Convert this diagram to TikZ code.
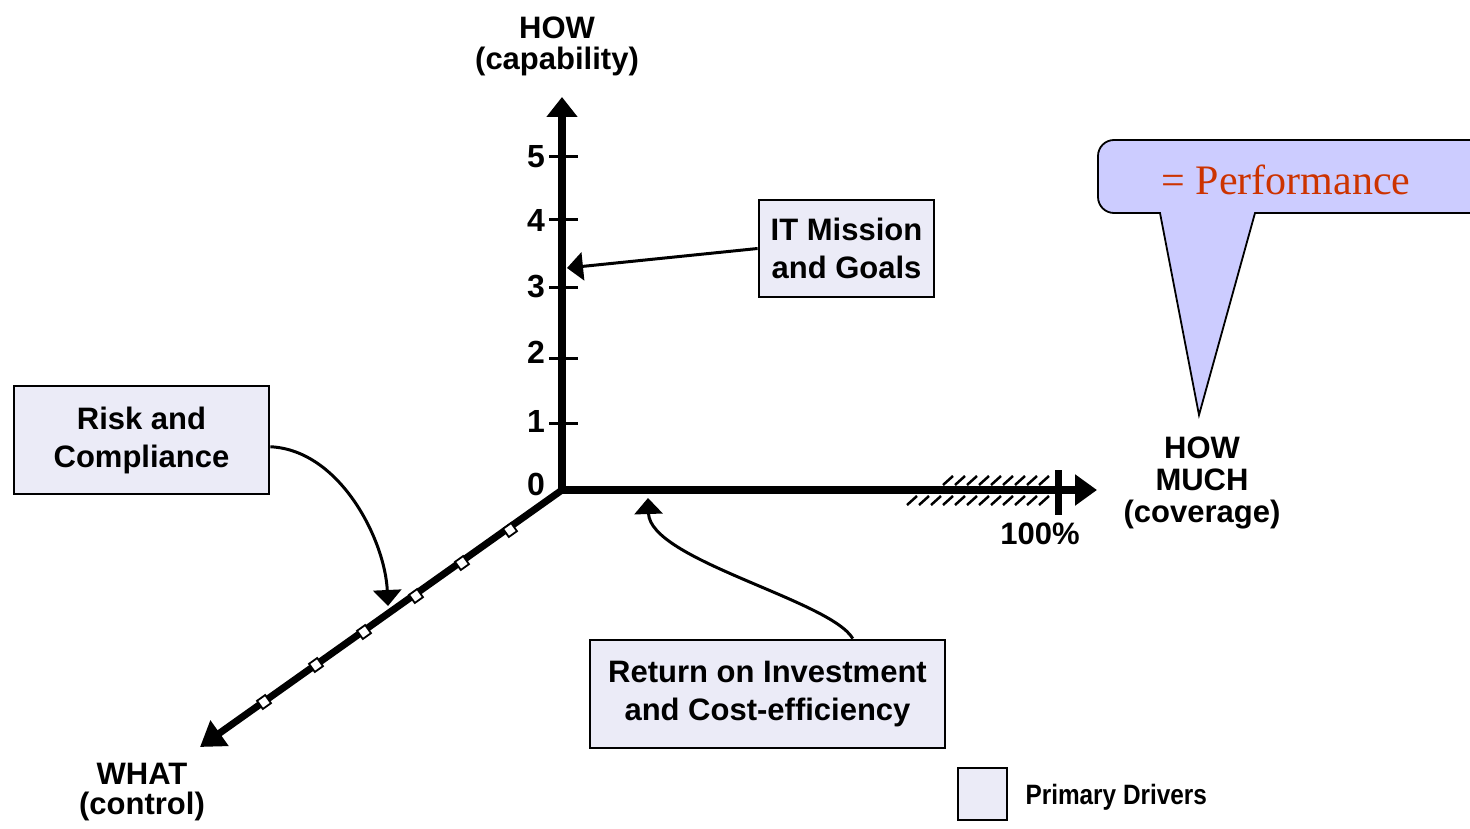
\documentclass[tikz,border=0pt]{standalone}
\usepackage{fontspec}
\setmainfont{Liberation Sans}
\newfontfamily\perffont{Liberation Serif}
\newfontfamily\narrowfont[FakeStretch=0.87]{Liberation Sans}
\usetikzlibrary{arrows.meta}
\definecolor{boxfill}{HTML}{EBEBF7}
\definecolor{callfill}{HTML}{CCCCFF}
\definecolor{perfred}{HTML}{CC3300}
\newcommand\myfs[2]{\fontsize{#1}{#2}\selectfont}
\begin{document}
\begin{tikzpicture}[x=1pt,y=-1pt,
  driver/.style={draw, line width=2.8pt, fill=boxfill, inner sep=0pt, align=center,
                 font=\bfseries\myfs{31}{38}},
  axislbl/.style={align=center, font=\bfseries\myfs{31}{31}},
  num/.style={font=\bfseries\myfs{32}{32}},
  axisline/.style={line width=7.5pt, line join=miter},
  tickline/.style={line width=3pt},
  hatchline/.style={line width=2.5pt},
  conn/.style={line width=3pt, -{Triangle[width=28pt,length=16pt]}},
  dotbox/.style={draw, fill=white, line width=1.8pt, minimum size=10pt, inner sep=0pt, rotate=35.4},
  callout/.style={draw, line width=1.8pt, fill=callfill}
]
\useasboundingbox (0,0) rectangle (1470,829);
\clip (0,0) rectangle (1470,829);

% axis coordinates
\coordinate (O) at (562,490);
\coordinate (ytop) at (562,97);
\coordinate (xend) at (1097,490);
\coordinate (zend) at (200,747);

% hatching near 100%
\foreach \x in {907,919,...,1045} \draw[hatchline] (\x,505) -- (\x+10,496);
\foreach \x in {943,955,...,1045} \draw[hatchline] (\x,485) -- (\x+10,476);

% axes
\draw[axisline, {Triangle[width=30pt,length=20pt]}-{Triangle[width=30pt,length=22pt]}] (ytop) -- (O) -- (xend);
\draw[line width=7pt, -{Triangle[width=30pt,length=24pt]}] (O) -- (zend);

% ticks on vertical axis
\foreach \y in {157,220,287,358,423} \draw[tickline] (549,\y) -- (578,\y);
\node[num] (n5) at (536,157) {5};
\node[num] (n4) at (536,220) {4};
\node[num] (n3) at (536,287) {3};
\node[num] (n2) at (536,352) {2};
\node[num] (n1) at (536,421) {1};
\node[num] (n0) at (536,484) {0};

% 100% tick
\draw[line width=7pt] (1058,470) -- (1058,515);
\node[font=\bfseries\myfs{31}{31}] (hundred) at (1040,534) {100\%};

% small squares on diagonal axis
\foreach \p [count=\i] in {(510,530),(462,563),(416,596),(364,632),(316,665),(264,702)}
  \node[dotbox] (d\i) at \p {};

% axis labels
\node[axislbl] (howlbl) at (557,46) {HOW\\(capability)};
\node[axislbl, font=\bfseries\myfs{31}{32}] (muchlbl) at (1202,483) {HOW\\MUCH\\(coverage)};
\node[axislbl, font=\bfseries\myfs{31}{30}] (whatlbl) at (142,792) {WHAT\\(control)};

% driver boxes
\node[driver, minimum width=255pt, minimum height=108pt] (risk) at (141.5,440) {Risk and\\Compliance};
\node[driver, minimum width=175pt, minimum height=97pt] (itm) at (846.5,248.5) {IT Mission\\and Goals};
\node[driver, minimum width=355pt, minimum height=108pt] (roi) at (767.5,694) {Return on Investment\\and Cost-efficiency};

% connectors
\coordinate (itip) at (567,268);
\coordinate (rtip) at (388,606);
\coordinate (otip) at (648,498);
\draw[conn] (itm.west) -- (itip);
\draw[conn] (risk.-3.6) .. controls (340,450) and (385,540) .. (rtip);
\draw[conn] (roi.33.7) .. controls (830,600) and (650,560) .. (otip);

% legend
\node[driver, minimum width=49pt, minimum height=52pt] (leg) at (982.5,794) {};
\node[anchor=west, font=\narrowfont\bfseries\myfs{28}{28}] (legtxt) at (1022,797) {Primary Drivers};

% callout
\draw[callout, rounded corners=16pt] (1130,213) -- (1098,213) -- (1098,140) -- (1490,140) -- (1490,213) -- (1300,213)
  [sharp corners] -- (1255,213) -- (1199,415) -- (1160,213) -- cycle;
\node[text=perfred, font=\perffont\myfs{42}{42}] (perf) at (1286,180) {= Performance};
\end{tikzpicture}
\end{document}
